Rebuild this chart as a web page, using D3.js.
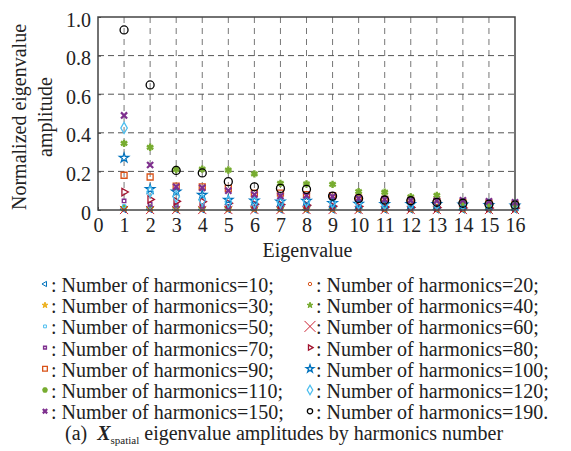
<!DOCTYPE html>
<html>
<head>
<script src="https://d3js.org/d3.v7.min.js"></script>
<style>
body { margin: 0; background: #fff; }
</style>
</head>
<body>
<div id="chart"></div>
<script>
// Data
const eigenIndex = [1, 2, 3, 4, 5, 6, 7, 8, 9, 10, 11, 12, 13, 14, 15, 16];
const xTicks = [0, 1, 2, 3, 4, 5, 6, 7, 8, 9, 10, 11, 12, 13, 14, 15, 16];
const yTicks = [0, 0.2, 0.4, 0.6, 0.8, 1.0];
const harmonics = [10, 20, 30, 40, 50, 60, 70, 80, 90, 100, 110, 120, 150, 190];

const h10  = [0.004, 0.004, 0.003, 0.003, 0.003, 0.002, 0.002, 0.002, 0.002, 0.002, 0.002, 0.002, 0.002, 0.002, 0.002, 0.002];
const h20  = [0.006, 0.005, 0.005, 0.004, 0.004, 0.004, 0.003, 0.003, 0.003, 0.003, 0.003, 0.003, 0.003, 0.003, 0.003, 0.003];
const h30  = [0.008, 0.007, 0.006, 0.006, 0.005, 0.005, 0.005, 0.004, 0.004, 0.004, 0.004, 0.004, 0.004, 0.004, 0.004, 0.004];
const h40  = [0.012, 0.010, 0.009, 0.008, 0.008, 0.007, 0.007, 0.006, 0.006, 0.006, 0.006, 0.005, 0.005, 0.005, 0.005, 0.005];
const h50  = [0.020, 0.015, 0.013, 0.012, 0.011, 0.010, 0.010, 0.009, 0.009, 0.008, 0.008, 0.008, 0.008, 0.007, 0.007, 0.007];
const h60  = [0, 0, 0, 0, 0, 0, 0, 0, 0, 0, 0, 0, 0, 0, 0, 0];
const h70  = [0.047, 0.030, 0.025, 0.020, 0.018, 0.015, 0.013, 0.012, 0.011, 0.010, 0.010, 0.009, 0.009, 0.008, 0.008, 0.008];
const h80  = [0.093, 0.055, 0.045, 0.043, 0.035, 0.030, 0.028, 0.025, 0.020, 0.018, 0.015, 0.013, 0.012, 0.011, 0.010, 0.010];
const h90  = [0.180, 0.171, 0.124, 0.120, 0.112, 0.087, 0.087, 0.080, 0.075, 0.062, 0.055, 0.050, 0.045, 0.040, 0.035, 0.030];
const h100 = [0.270, 0.108, 0.095, 0.078, 0.052, 0.048, 0.043, 0.047, 0.035, 0.032, 0.030, 0.030, 0.030, 0.028, 0.025, 0.022];
const h110 = [0.345, 0.325, 0.210, 0.212, 0.207, 0.187, 0.138, 0.135, 0.133, 0.095, 0.092, 0.068, 0.076, 0.040, 0.030, 0.025];
const h120 = [0.425, 0.095, 0.069, 0.052, 0.043, 0.040, 0.040, 0.045, 0.040, 0.035, 0.030, 0.030, 0.030, 0.028, 0.025, 0.022];
const h150 = [0.490, 0.233, 0.120, 0.115, 0.100, 0.080, 0.073, 0.075, 0.070, 0.060, 0.055, 0.050, 0.048, 0.050, 0.045, 0.040];
const h190 = [0.933, 0.648, 0.205, 0.192, 0.147, 0.120, 0.112, 0.107, 0.072, 0.060, 0.052, 0.048, 0.040, 0.035, 0.030, 0.026];

const seriesValues = [h10, h20, h30, h40, h50, h60, h70, h80, h90, h100, h110, h120, h150, h190];

const FONT = "Liberation Serif, Times New Roman, Times, serif";

// marker styles (matlab-ish)
const styles = [
  { type: d3.symbolTriangle, rot: -90, color: "#0072BD", fill: false, sw: 1, plot: 22, leg: 12 },
  { type: d3.symbolCircle,   rot: 0,   color: "#D95319", fill: false, sw: 1, plot: 12, leg: 9 },
  { type: d3.symbolStar,     rot: 0,   color: "#EDB120", fill: true,  sw: 1, plot: 16, leg: 11 },
  { type: d3.symbolStar,     rot: 0,   color: "#77AC30", fill: true,  sw: 1, plot: 16, leg: 11 },
  { type: d3.symbolSquare,   rot: 0,   color: "#4DBEEE", fill: false, sw: 1, plot: 10, leg: 8 },
  { type: d3.symbolTimes,    rot: 0,   color: "#CC2233", fill: false, sw: 1, plot: 45, leg: 80 },
  { type: d3.symbolSquare,   rot: 0,   color: "#7E2F8E", fill: false, sw: 1.4, plot: 12, leg: 8 },
  { type: d3.symbolTriangle, rot: 90,  color: "#A2142F", fill: false, sw: 1.3, plot: 24, leg: 12 },
  { type: d3.symbolSquare,   rot: 0,   color: "#D95319", fill: false, sw: 1.3, plot: 36, leg: 22 },
  { type: d3.symbolStar,     rot: 0,   color: "#0072BD", fill: false, sw: 1.3, plot: 26, leg: 18 },
  { type: d3.symbolAsterisk, rot: 0,   color: "#77AC30", fill: false, sw: 2.4, plot: 38, leg: 20 },
  { type: d3.symbolDiamond,  rot: 0,   color: "#4DBEEE", fill: false, sw: 1.3, plot: 36, leg: 26 },
  { type: d3.symbolTimes,    rot: 0,   color: "#7E2F8E", fill: false, sw: 2.2, plot: 26, leg: 14 },
  { type: d3.symbolCircle,   rot: 0,   color: "#000000", fill: false, sw: 1.3, plot: 50, leg: 22 }
];

var svg = d3.select("#chart").append("svg")
  .attr("width", 571)
  .attr("height", 451)
  .attr("font-family", FONT);

var x = d3.scaleLinear().domain([0, 16]).range([98, 515]);
var y = d3.scaleLinear().domain([0, 1]).range([210, 17]);

function drawMarker(g, st, size, px, py) {
  g.append("path")
    .attr("d", d3.symbol().type(st.type).size(size)())
    .attr("transform", `translate(${px},${py}) rotate(${st.rot})`)
    .attr("fill", st.fill ? st.color : "none")
    .attr("stroke", st.color)
    .attr("stroke-width", st.sw);
}

// grid
var grid = svg.append("g");
grid.selectAll("line.v")
  .data(xTicks.filter(d => d > 0 && d < 16))
  .enter().append("line")
  .attr("x1", d => x(d)).attr("x2", d => x(d))
  .attr("y1", y(0)).attr("y2", y(1))
  .attr("stroke", "#777").attr("stroke-width", 1)
  .attr("stroke-dasharray", "6,5");
grid.selectAll("line.h")
  .data(yTicks.filter(d => d > 0 && d < 1))
  .enter().append("line")
  .attr("x1", x(0)).attr("x2", x(16))
  .attr("y1", d => y(d)).attr("y2", d => y(d))
  .attr("stroke", "#555").attr("stroke-width", 1)
  .attr("stroke-dasharray", "6,4");

// axes
svg.append("g")
  .attr("class", "yax")
  .attr("transform", `translate(${x(0)},0)`)
  .call(d3.axisLeft(y).tickValues(yTicks).tickSize(-3).tickPadding(7)
    .tickFormat(d => d === 0 ? "0" : d3.format(".1f")(d)));
svg.append("g")
  .attr("transform", `translate(0,${y(0)})`)
  .call(d3.axisBottom(x).tickValues(xTicks).tickSize(-3).tickPadding(8)
    .tickFormat(d3.format("d")));
svg.selectAll(".domain").remove();
svg.selectAll("g").attr("font-family", FONT).attr("font-size", 20);
svg.selectAll(".tick line").attr("stroke", "#444");
svg.selectAll(".tick text").attr("fill", "#222").attr("font-family", FONT).attr("font-size", 20);
svg.selectAll(".yax .tick text").attr("dy", "0.45em");

// points
var pts = svg.append("g");
seriesValues.forEach(function(vals, i) {
  vals.forEach(function(v, j) {
    drawMarker(pts, styles[i], styles[i].plot, x(eigenIndex[j]), y(v));
  });
});

// frame
svg.append("rect")
  .attr("x", x(0)).attr("y", y(1))
  .attr("width", x(16) - x(0)).attr("height", y(0) - y(1))
  .attr("fill", "none").attr("stroke", "#444").attr("stroke-width", 1.5);

function label(sel) {
  return sel.attr("font-family", FONT).attr("font-size", 20).attr("fill", "#222");
}

// axis titles
label(svg.append("text"))
  .attr("x", (x(0) + x(16)) / 2 + 1).attr("y", 257)
  .attr("text-anchor", "middle")
  .text("Eigenvalue");
label(svg.append("text"))
  .attr("transform", "translate(26,117) rotate(-90)")
  .attr("text-anchor", "middle")
  .text("Normalized eigenvalue");
label(svg.append("text"))
  .attr("transform", "translate(52,117) rotate(-90)")
  .attr("text-anchor", "middle")
  .text("amplitude");

// legend, two columns
var legend = svg.append("g");
harmonics.forEach(function(h, i) {
  var col = i % 2, row = Math.floor(i / 2);
  var tx = col === 0 ? 51 : 316;
  var base = 292 + row * 21.2;
  drawMarker(legend, styles[i], styles[i].leg, tx - 6, base - 8);
  label(legend.append("text"))
    .attr("x", tx).attr("y", base)
    .text(": Number of harmonics=" + h + (i === harmonics.length - 1 ? "." : ";"));
});

// caption
var cap = label(svg.append("text"))
  .attr("x", 65).attr("y", 440);
cap.append("tspan").text("(a)\u00a0\u00a0");
cap.append("tspan").attr("font-weight", "bold").attr("font-style", "italic").text("X");
cap.append("tspan").attr("font-size", 11).attr("dy", 4).text("spatial");
cap.append("tspan").attr("dy", -4).text(" eigenvalue amplitudes by harmonics number");
</script>
</body>
</html>
